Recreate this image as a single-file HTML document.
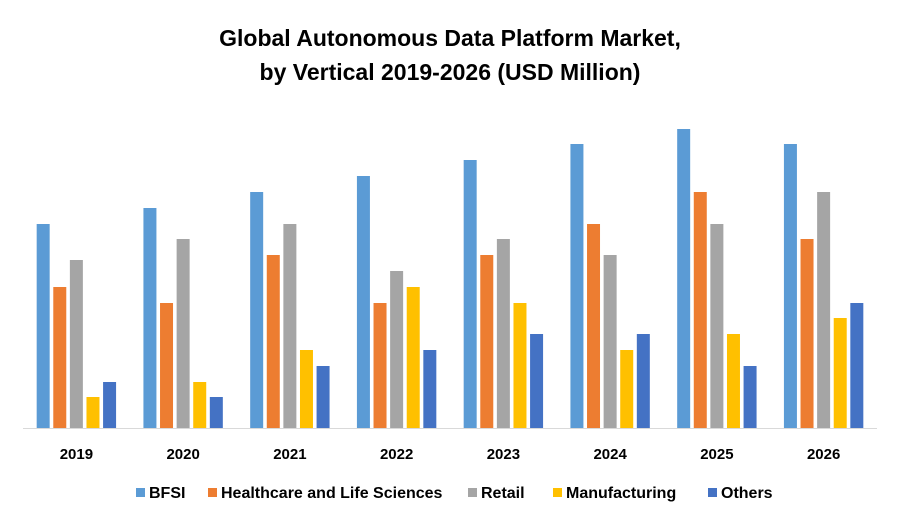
<!DOCTYPE html>
<html><head><meta charset="utf-8"><style>
body{margin:0;background:#fff;font-family:"Liberation Sans",Arial,sans-serif}
#c{position:relative;width:900px;height:525px}
</style></head><body>
<div id="c">
<svg id="s" width="900" height="525">
<text x="450" y="46" text-anchor="middle" font-size="23" font-weight="bold" fill="#000">Global Autonomous Data Platform Market,</text>
<text x="450" y="80" text-anchor="middle" font-size="23" font-weight="bold" fill="#000">by Vertical 2019-2026 (USD Million)</text>
<line x1="23" y1="428.5" x2="877" y2="428.5" stroke="#d9d9d9" stroke-width="1"/>
<g id="bars"></g>
<g id="xl"></g>
<g id="lg"></g>
</svg>
</div>
<script>
const categories=["2019","2020","2021","2022","2023","2024","2025","2026"];
const seriesNames=["BFSI","Healthcare and Life Sciences","Retail","Manufacturing","Others"];
const bfsi=[204,220,236,252,268,284,299,284];
const healthcare=[141,125,173,125,173,204,236,189];
const retail=[168,189,204,157,189,173,204,236];
const manufacturing=[31,46,78,141,125,78,94,110];
const others=[46,31,62,78,94,94,62,125];
const series=[bfsi,healthcare,retail,manufacturing,others];
const colors=["#5b9bd5","#ed7d31","#a5a5a5","#ffc000","#4472c4"];
const NS="http://www.w3.org/2000/svg";
const x0=23,x1=877,base=428,yScale=1.0;
const band=(x1-x0)/categories.length;
function xCenter(i){return x0+band*(i+0.5);}
function y(v){return base-v*yScale;}
const bw=13,step=16.6;
const bars=document.getElementById('bars');
categories.forEach((c,i)=>{
  series.forEach((arr,k)=>{
    const r=document.createElementNS(NS,'rect');
    const bx=xCenter(i)+(k-2)*step-bw/2;
    r.setAttribute('x',bx);r.setAttribute('y',y(arr[i]));
    r.setAttribute('width',bw);r.setAttribute('height',base-y(arr[i]));
    r.setAttribute('fill',colors[k]);
    
    
    bars.appendChild(r);
  });
  const t=document.createElementNS(NS,'text');
  t.setAttribute('x',xCenter(i));t.setAttribute('y',459);
  t.setAttribute('text-anchor','middle');t.setAttribute('font-size','15');t.setAttribute('font-weight','bold');
  t.textContent=c;
  
  
  document.getElementById('xl').appendChild(t);
});
const lg=document.getElementById('lg');
const lx=[136,208,468,553,708];
seriesNames.forEach((n,k)=>{
  const g=document.createElementNS(NS,'g');
  
  
  const r=document.createElementNS(NS,'rect');
  r.setAttribute('x',lx[k]);r.setAttribute('y',488);r.setAttribute('width',9);r.setAttribute('height',9);r.setAttribute('fill',colors[k]);
  const t=document.createElementNS(NS,'text');
  t.setAttribute('x',lx[k]+13);t.setAttribute('y',498);t.setAttribute('font-size','16');t.setAttribute('font-weight','bold');
  t.textContent=n;
  g.appendChild(r);g.appendChild(t);lg.appendChild(g);
});
</script>
</body></html>
